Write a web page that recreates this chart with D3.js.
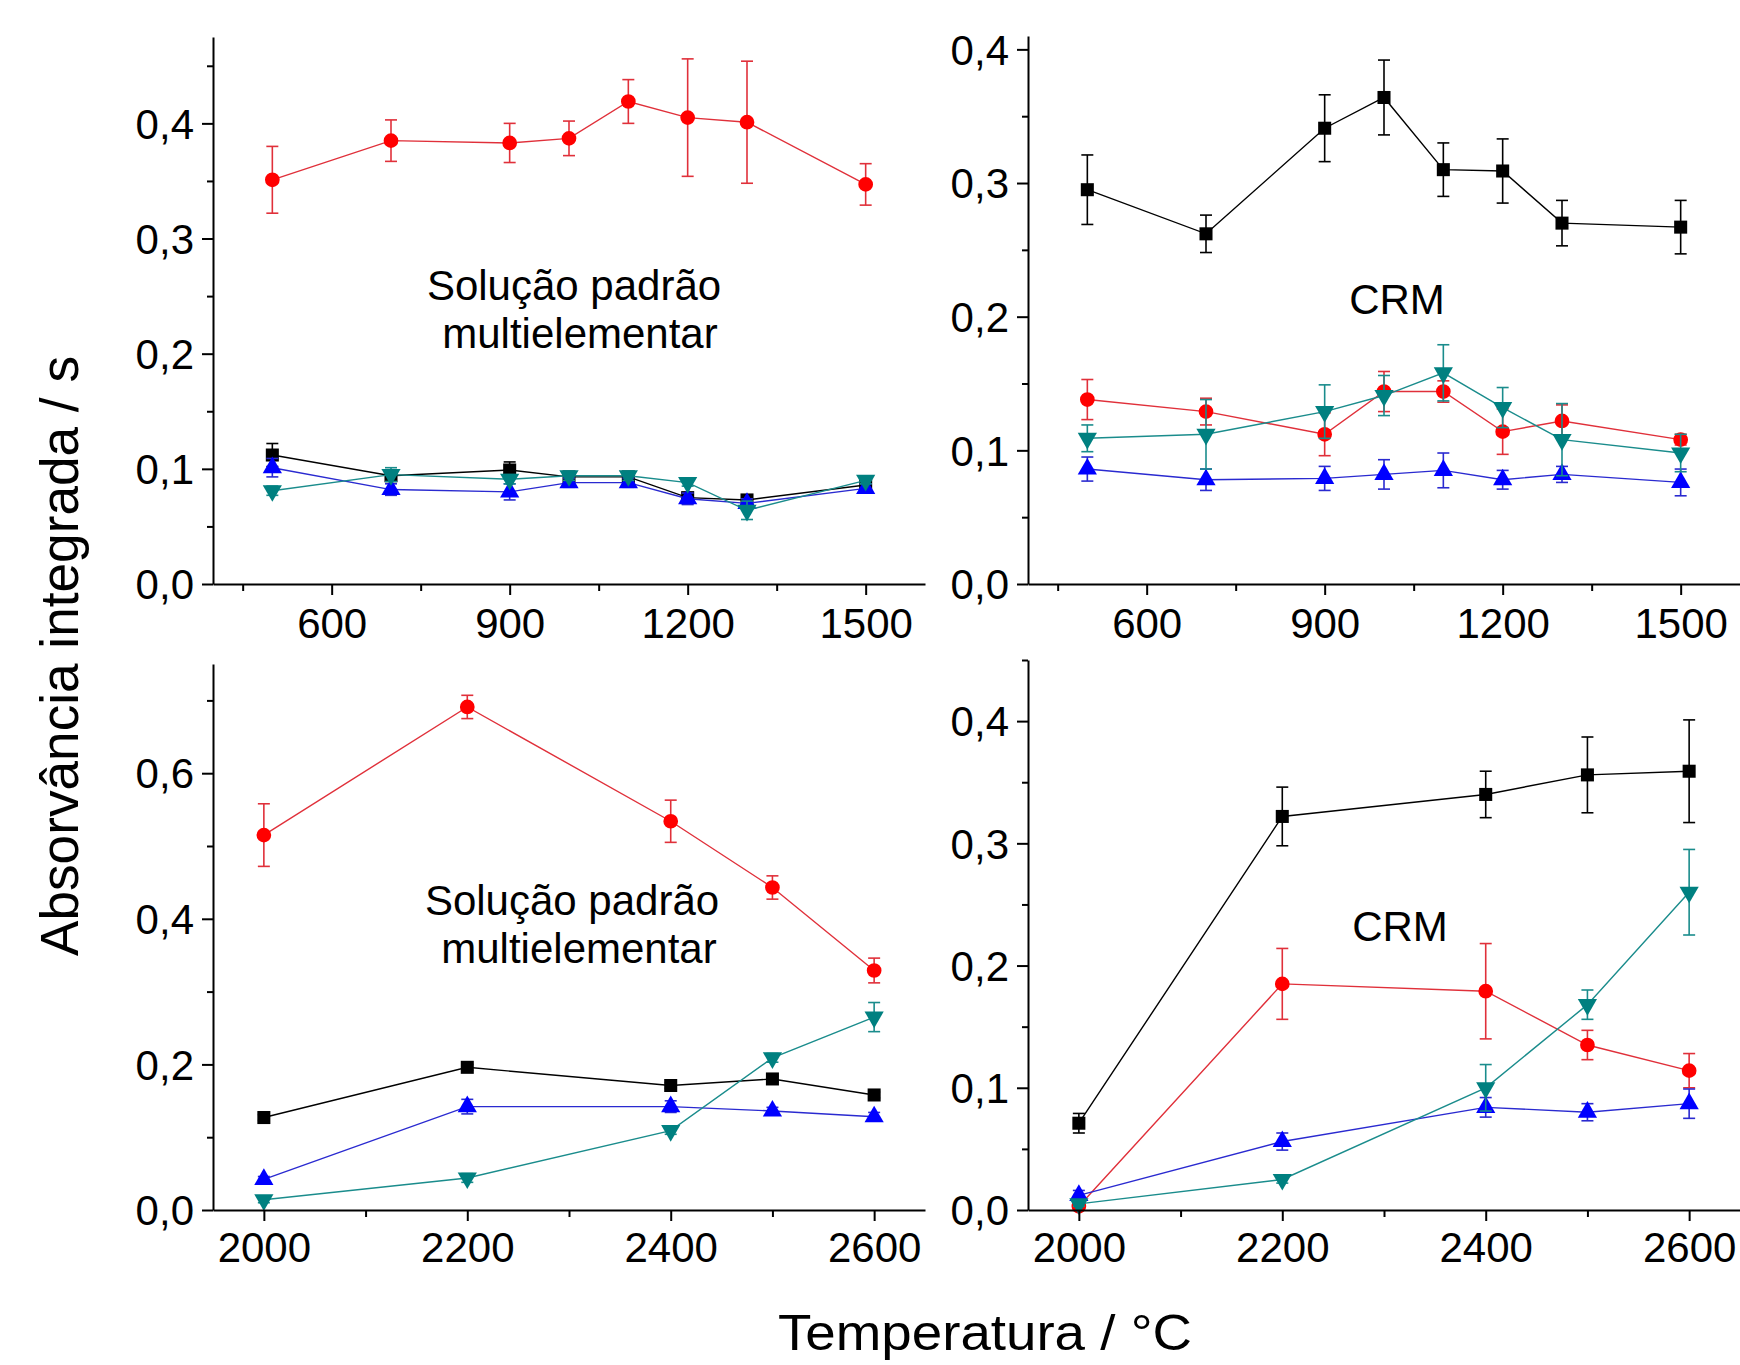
<!DOCTYPE html>
<html>
<head>
<meta charset="utf-8">
<script src="https://cdn.jsdelivr.net/npm/d3@7"></script>
<style>
  body { margin: 0; background: #fff; }
  text { font-family: "Liberation Sans", Arial, sans-serif; fill: #000; }
</style>
</head>
<body>
<svg id="chart" width="1740" height="1365"></svg>
<script>
// temperatures (°C)
const tempPirolise = [500, 700, 900, 1000, 1100, 1200, 1300, 1500];
const tempAtomizacao = [2000, 2200, 2400, 2500, 2600];

// pirólise - solução padrão multielementar
const padraoPirPreto = [0.112, 0.094, 0.099, 0.093, 0.093, 0.075, 0.073, 0.086];
const padraoPirPretoErr = [0.010, 0.004, 0.007, 0.004, 0.004, 0.004, 0.004, 0.004];
const padraoPirVermelho = [0.351, 0.385, 0.383, 0.387, 0.419, 0.405, 0.401, 0.347];
const padraoPirVermelhoErr = [0.029, 0.018, 0.017, 0.015, 0.019, 0.051, 0.053, 0.018];
const padraoPirAzul = [0.101, 0.082, 0.080, 0.088, 0.088, 0.074, 0.070, 0.083];
const padraoPirAzulErr = [0.008, 0.005, 0.007, 0.004, 0.004, 0.005, 0.004, 0.004];
const padraoPirVerde = [0.081, 0.095, 0.091, 0.094, 0.094, 0.088, 0.064, 0.090];
const padraoPirVerdeErr = [0.004, 0.006, 0.004, 0.004, 0.004, 0.003, 0.008, 0.003];

// pirólise - CRM
const crmPirPreto = [0.295, 0.262, 0.341, 0.364, 0.310, 0.309, 0.270, 0.267];
const crmPirPretoErr = [0.026, 0.014, 0.025, 0.028, 0.020, 0.024, 0.017, 0.020];
const crmPirVermelho = [0.138, 0.129, 0.112, 0.144, 0.144, 0.114, 0.122, 0.108];
const crmPirVermelhoErr = [0.015, 0.010, 0.016, 0.015, 0.008, 0.017, 0.012, 0.004];
const crmPirAzul = [0.086, 0.078, 0.079, 0.082, 0.085, 0.078, 0.082, 0.076];
const crmPirAzulErr = [0.009, 0.008, 0.009, 0.011, 0.013, 0.007, 0.006, 0.010];
const crmPirVerde = [0.109, 0.112, 0.129, 0.141, 0.158, 0.132, 0.108, 0.098];
const crmPirVerdeErr = [0.010, 0.026, 0.020, 0.015, 0.021, 0.015, 0.027, 0.014];

// atomização - solução padrão multielementar
const padraoAtPreto = [0.127, 0.196, 0.171, 0.180, 0.158];
const padraoAtPretoErr = [0.004, 0.004, 0.004, 0.004, 0.004];
const padraoAtVermelho = [0.515, 0.691, 0.534, 0.443, 0.329];
const padraoAtVermelhoErr = [0.043, 0.016, 0.029, 0.016, 0.017];
const padraoAtAzul = [0.042, 0.142, 0.142, 0.136, 0.128];
const padraoAtAzulErr = [0.004, 0.010, 0.008, 0.005, 0.006];
const padraoAtVerde = [0.014, 0.044, 0.109, 0.209, 0.265];
const padraoAtVerdeErr = [0.004, 0.006, 0.005, 0.006, 0.020];

// atomização - CRM
const crmAtPreto = [0.071, 0.322, 0.340, 0.356, 0.359];
const crmAtPretoErr = [0.008, 0.024, 0.019, 0.031, 0.042];
const crmAtVermelho = [0.003, 0.185, 0.179, 0.135, 0.114];
const crmAtVermelhoErr = [0.003, 0.029, 0.039, 0.012, 0.014];
const crmAtAzul = [0.012, 0.056, 0.084, 0.080, 0.087];
const crmAtAzulErr = [0.004, 0.007, 0.008, 0.007, 0.012];
const crmAtVerde = [0.005, 0.025, 0.100, 0.168, 0.260];
const crmAtVerdeErr = [0.002, 0.003, 0.019, 0.012, 0.035];

// tick values
const xMajorPir = [600, 900, 1200, 1500];
const xMinorPir = [450, 750, 1050, 1350];
const xMajorAt = [2000, 2200, 2400, 2600];
const xMinorAt = [2100, 2300, 2500];

const svg = d3.select("#chart");
const fmt = d3.formatLocale({decimal: ",", thousands: ".", grouping: [3], currency: ["", ""]}).format(".1f");

const styles = {
    preto:    {marker: "#000000", line: "#000000", symbol: d3.symbolSquare, size: 170, rot: 0},
    vermelho: {marker: "#ff0000", line: "#e0303a", symbol: d3.symbolCircle, size: 170, rot: 0},
    azul:     {marker: "#0000ff", line: "#2a2ad0", symbol: d3.symbolTriangle, size: 160, rot: 0},
    verde:    {marker: "#008080", line: "#1a8c8c", symbol: d3.symbolTriangle, size: 160, rot: 180}
};

function series(name, xs, ys, errs) {
    return {name, pts: xs.map((t, i) => ({t, v: ys[i], e: errs[i]}))};
}

const panels = [
    {left: 213, right: 925, top: 37, bottom: 584, xDomain: [400, 1600], yDomain: [0, 0.475],
     yMajor: [0, 0.1, 0.2, 0.3, 0.4], yMinor: [0.05, 0.15, 0.25, 0.35, 0.45],
     xMajor: xMajorPir, xMinor: xMinorPir, xLabelY: 54,
     notes: [["Solução padrão", 574, 300], ["multielementar", 580, 348]],
     series: [series("preto", tempPirolise, padraoPirPreto, padraoPirPretoErr),
              series("vermelho", tempPirolise, padraoPirVermelho, padraoPirVermelhoErr),
              series("azul", tempPirolise, padraoPirAzul, padraoPirAzulErr),
              series("verde", tempPirolise, padraoPirVerde, padraoPirVerdeErr)]},
    {left: 1028, right: 1740, top: 36, bottom: 584, xDomain: [400, 1600], yDomain: [0, 0.41],
     yMajor: [0, 0.1, 0.2, 0.3, 0.4], yMinor: [0.05, 0.15, 0.25, 0.35],
     xMajor: xMajorPir, xMinor: xMinorPir, xLabelY: 54,
     notes: [["CRM", 1397, 314]],
     series: [series("preto", tempPirolise, crmPirPreto, crmPirPretoErr),
              series("vermelho", tempPirolise, crmPirVermelho, crmPirVermelhoErr),
              series("azul", tempPirolise, crmPirAzul, crmPirAzulErr),
              series("verde", tempPirolise, crmPirVerde, crmPirVerdeErr)]},
    {left: 213, right: 925, top: 664, bottom: 1210, xDomain: [1950, 2650], yDomain: [0, 0.75],
     yMajor: [0, 0.2, 0.4, 0.6], yMinor: [0.1, 0.3, 0.5, 0.7],
     xMajor: xMajorAt, xMinor: xMinorAt, xLabelY: 52,
     notes: [["Solução padrão", 572, 915], ["multielementar", 579, 963]],
     series: [series("preto", tempAtomizacao, padraoAtPreto, padraoAtPretoErr),
              series("vermelho", tempAtomizacao, padraoAtVermelho, padraoAtVermelhoErr),
              series("azul", tempAtomizacao, padraoAtAzul, padraoAtAzulErr),
              series("verde", tempAtomizacao, padraoAtVerde, padraoAtVerdeErr)]},
    {left: 1028, right: 1740, top: 660, bottom: 1210, xDomain: [1950, 2650], yDomain: [0, 0.45],
     yMajor: [0, 0.1, 0.2, 0.3, 0.4], yMinor: [0.05, 0.15, 0.25, 0.35, 0.45],
     xMajor: xMajorAt, xMinor: xMinorAt, xLabelY: 52,
     notes: [["CRM", 1400, 941]],
     series: [series("preto", tempAtomizacao, crmAtPreto, crmAtPretoErr),
              series("vermelho", tempAtomizacao, crmAtVermelho, crmAtVermelhoErr),
              series("azul", tempAtomizacao, crmAtAzul, crmAtAzulErr),
              series("verde", tempAtomizacao, crmAtVerde, crmAtVerdeErr)]}
];

function drawPanel(p) {
    const g = svg.append("g");
    const x = d3.scaleLinear().domain(p.xDomain).range([p.left, p.right]);
    const y = d3.scaleLinear().domain(p.yDomain).range([p.bottom, p.top]);

    // series
    p.series.forEach(s => {
        const st = styles[s.name];
        const sg = g.append("g");
        sg.append("path")
            .datum(s.pts)
            .attr("fill", "none")
            .attr("stroke", st.line)
            .attr("stroke-width", 1.4)
            .attr("d", d3.line().x(d => x(d.t)).y(d => y(d.v)));

        const eb = sg.selectAll(".err").data(s.pts).join("g").attr("stroke", st.line).attr("stroke-width", 1.6);
        eb.append("line")
            .attr("x1", d => x(d.t)).attr("x2", d => x(d.t))
            .attr("y1", d => y(d.v - d.e)).attr("y2", d => y(d.v + d.e));
        eb.append("line")
            .attr("x1", d => x(d.t) - 6).attr("x2", d => x(d.t) + 6)
            .attr("y1", d => y(d.v + d.e)).attr("y2", d => y(d.v + d.e));
        eb.append("line")
            .attr("x1", d => x(d.t) - 6).attr("x2", d => x(d.t) + 6)
            .attr("y1", d => y(d.v - d.e)).attr("y2", d => y(d.v - d.e));

        sg.selectAll(".pt").data(s.pts).join("path")
            .attr("fill", st.marker)
            .attr("transform", d => `translate(${x(d.t)},${y(d.v)}) rotate(${st.rot})`)
            .attr("d", d3.symbol().type(st.symbol).size(st.size));
    });

    // axes
    const xa = g.append("g").attr("transform", `translate(0,${p.bottom})`)
        .call(d3.axisBottom(x).tickValues(p.xMajor).tickSize(11).tickPadding(13).tickSizeOuter(0).tickFormat(d3.format("d")));
    xa.selectAll("text").attr("font-size", 42).attr("dy", null).attr("y", p.xLabelY);
    g.append("g").attr("transform", `translate(0,${p.bottom})`)
        .call(d3.axisBottom(x).tickValues(p.xMinor).tickSize(7).tickFormat(""))
        .call(a => a.select(".domain").remove());

    const ya = g.append("g").attr("transform", `translate(${p.left},0)`)
        .call(d3.axisLeft(y).tickValues(p.yMajor).tickSize(11).tickPadding(8).tickSizeOuter(0).tickFormat(fmt));
    ya.selectAll("text").attr("font-size", 42).attr("dy", "0.35em");
    g.append("g").attr("transform", `translate(${p.left},0)`)
        .call(d3.axisLeft(y).tickValues(p.yMinor).tickSize(6).tickFormat(""))
        .call(a => a.select(".domain").remove());

    g.selectAll(".domain, .tick line").attr("stroke", "#000").attr("stroke-width", 2);
    g.selectAll(".tick text").attr("font-family", "Liberation Sans, Arial, sans-serif").attr("fill", "#000");

    p.notes.forEach(([txt, cx, by]) => {
        g.append("text").attr("x", cx).attr("y", by)
            .attr("text-anchor", "middle").attr("font-size", 42).text(txt);
    });
}

panels.forEach(drawPanel);

svg.append("text")
    .attr("x", 985).attr("y", 1350)
    .attr("text-anchor", "middle").attr("font-size", 50)
    .attr("textLength", 414).attr("lengthAdjust", "spacingAndGlyphs")
    .text("Temperatura / °C");

svg.append("text")
    .attr("transform", "translate(78,656) rotate(-90)")
    .attr("text-anchor", "middle").attr("font-size", 53)
    .attr("textLength", 600).attr("lengthAdjust", "spacingAndGlyphs")
    .text("Absorvância integrada / s");
</script>
</body>
</html>
